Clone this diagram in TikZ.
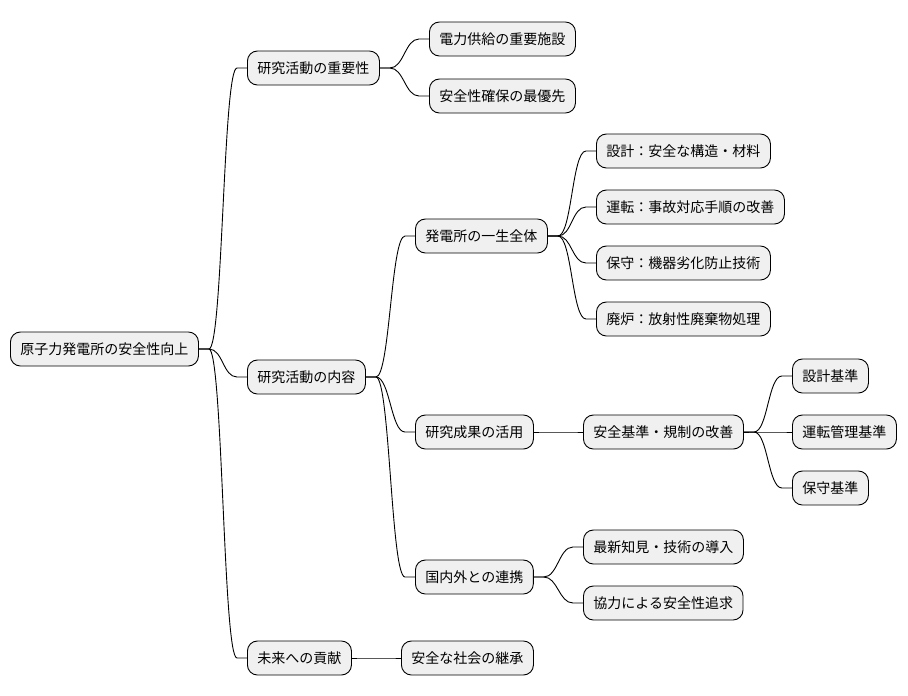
\documentclass[tikz,border=0pt]{standalone}
\usepackage{fontspec}
\setmainfont{Noto Sans CJK JP}
\usetikzlibrary{calc}

\tikzset{
  topic/.style={draw=black, fill=black!6, rounded corners=10pt, line width=0.9pt,
    minimum height=34pt, inner xsep=10pt, inner ysep=0pt, anchor=west,
    font=\fontsize{14}{16}\selectfont},
  branch/.style={line width=0.9pt}
}

\begin{document}
\begin{tikzpicture}[x=1pt,y=-1pt]

\useasboundingbox (0,0) rectangle (908,696);

% root
\node[topic] (root) at (10,349) {原子力発電所の安全性向上};

% first level
\node[topic] (imp)  at (247,68)  {研究活動の重要性};
\node[topic] (cont) at (247,377) {研究活動の内容};
\node[topic] (fut)  at (247,658) {未来への貢献};

% second level
\node[topic] (power) at (429,39)  {電力供給の重要施設};
\node[topic] (prio)  at (429,96)  {安全性確保の最優先};
\node[topic] (life)  at (415,236) {発電所の一生全体};
\node[topic] (use)   at (415,432) {研究成果の活用};
\node[topic] (coop)  at (415,577) {国内外との連携};
\node[topic] (soc)   at (401,658) {安全な社会の継承};

% third level
\node[topic] (des)  at (596,151) {設計：安全な構造・材料};
\node[topic] (ope)  at (596,207) {運転：事故対応手順の改善};
\node[topic] (mnt)  at (596,263) {保守：機器劣化防止技術};
\node[topic] (dec)  at (596,319) {廃炉：放射性廃棄物処理};
\node[topic] (reg)  at (583,432) {安全基準・規制の改善};
\node[topic] (new)  at (583,547) {最新知見・技術の導入};
\node[topic] (coll) at (583,603) {協力による安全性追求};

% fourth level
\node[topic] (sdes) at (792,376) {設計基準};
\node[topic] (sope) at (792,432) {運転管理基準};
\node[topic] (smnt) at (792,488) {保守基準};

% branches
\foreach \p/\c in {root/imp, root/cont, root/fut,
                   imp/power, imp/prio,
                   cont/life, cont/use, cont/coop,
                   fut/soc,
                   life/des, life/ope, life/mnt, life/dec,
                   use/reg,
                   coop/new, coop/coll,
                   reg/sdes, reg/sope, reg/smnt}{
  \draw[branch] (\p.east) -- ++(10,0) .. controls +(14,0) and +(-14,0) .. ($(\c.west)+(-10,0)$) -- (\c.west);
}

\end{tikzpicture}
\end{document}
